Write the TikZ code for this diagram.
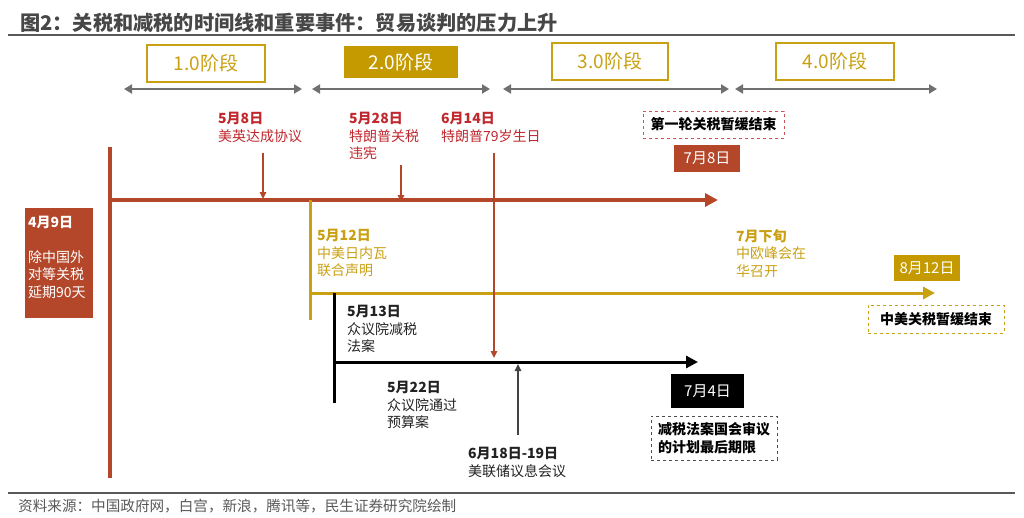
\documentclass[tikz,border=0pt]{standalone}
\usepackage{fontspec}
\setmainfont{Noto Sans CJK SC}
\usetikzlibrary{arrows.meta}
\definecolor{rust}{HTML}{B4462A}
\definecolor{redtxt}{HTML}{C0282E}
\definecolor{gold}{HTML}{C9A012}
\definecolor{goldfill}{HTML}{C49A00}
\definecolor{spangray}{HTML}{707070}
\definecolor{rulegray}{HTML}{595959}
\definecolor{ink}{HTML}{222222}
\begin{document}
\begin{tikzpicture}[x=1pt,y=-1pt,
  phase/.style={draw=gold, line width=2pt, text=gold, inner sep=0,
    font=\fontsize{19}{22}\selectfont},
  span/.style={draw=spangray, line width=2.8pt,
    {Triangle[length=8pt,width=9pt]}-{Triangle[length=8pt,width=9pt]}},
  evt/.style={align=left, anchor=north west, inner sep=0,
    font=\fontsize{14}{17.5}\selectfont},
  datebox/.style={inner sep=0, text=white, font=\fontsize{15}{18}\selectfont},
  notebox/.style={dashed, line width=0.8pt, inner sep=0, text=black,
    font=\bfseries\fontsize{14}{17.5}\selectfont, align=left},
  evarrow/.style={line width=1.3pt, -{Triangle[length=7pt,width=6.5pt]}},
]
\useasboundingbox (0,0) rectangle (1024,517);
% title
\node[anchor=west, inner sep=0, text=rulegray!80!black, font=\bfseries\fontsize{20.2}{23}\selectfont] (title) at (20,23) {图2：关税和减税的时间线和重要事件：贸易谈判的压力上升};
\coordinate (tl0) at (8,35); \coordinate (tl1) at (1015,35);
\draw[rulegray, line width=1.5pt] (tl0) -- (tl1);
\coordinate (bl0) at (8,493); \coordinate (bl1) at (1015,493);
\draw[rulegray, line width=1.5pt] (bl0) -- (bl1);
\node[anchor=west, inner sep=0, text=rulegray, font=\fontsize{14.6}{17}\selectfont] (src) at (18,506) {资料来源：中国政府网，白宫，新浪，腾讯等，民生证券研究院绘制};

% phases
\node[phase, minimum width=118pt, minimum height=37pt] (p1) at (206,63.5) {1.0阶段};
\node[phase, draw=goldfill, fill=goldfill, text=white, minimum width=112pt, minimum height=30pt] (p2) at (401,62) {2.0阶段};
\node[phase, minimum width=116pt, minimum height=37pt] (p3) at (610,61.5) {3.0阶段};
\node[phase, minimum width=118pt, minimum height=37pt] (p4) at (835,61.5) {4.0阶段};
\coordinate (s1a) at (124,89); \coordinate (s1b) at (302,89);
\coordinate (s2a) at (312,89); \coordinate (s2b) at (490,89);
\coordinate (s3a) at (503,89); \coordinate (s3b) at (729,89);
\coordinate (s4a) at (735,89); \coordinate (s4b) at (937,89);
\draw[span] (s1a) -- (s1b);
\draw[span] (s2a) -- (s2b);
\draw[span] (s3a) -- (s3b);
\draw[span] (s4a) -- (s4b);

% red timeline
\coordinate (r0) at (110,147); \coordinate (r1) at (110,478);
\coordinate (rs) at (108,200); \coordinate (re) at (718,200);
\draw[rust, line width=4pt] (r0) -- (r1);
\draw[rust, line width=4pt, -{Triangle[length=13pt,width=13pt]}] (rs) -- (re);

% gold timeline
\coordinate (g0) at (310,200); \coordinate (g1) at (310,320);
\coordinate (gs) at (310,293); \coordinate (ge) at (935,293);
\draw[gold, line width=3pt] (g0) -- (g1);
\draw[gold, line width=3pt, -{Triangle[length=12pt,width=12pt]}] (gs) -- (ge);

% black timeline
\coordinate (k0) at (334,293); \coordinate (k1) at (334,403);
\coordinate (ks) at (334,362); \coordinate (ke) at (698,362);
\draw[black, line width=3pt] (k0) -- (k1);
\draw[black, line width=3pt, -{Triangle[length=12pt,width=12pt]}] (ks) -- (ke);

% red events
\node[evt, text=redtxt] (e58) at (218,112) {\textbf{5月8日}\\美英达成协议};
\node[evt, text=redtxt] (e528) at (349,112) {\textbf{5月28日}\\特朗普关税\\违宪};
\node[evt, text=redtxt] (e614) at (441,112) {\textbf{6月14日}\\特朗普79岁生日};
\coordinate (a1s) at (263,153); \coordinate (a1e) at (263,199);
\coordinate (a2s) at (401,165); \coordinate (a2e) at (401,202);
\coordinate (a3s) at (494,153); \coordinate (a3e) at (494,358);
\draw[evarrow, rust] (a1s) -- (a1e);
\draw[evarrow, rust] (a2s) -- (a2e);
\draw[evarrow, rust] (a3s) -- (a3e);

% left box
\node[fill=rust, minimum width=68pt, minimum height=110pt, inner sep=0] (b49) at (59,263) {};
\node[evt, text=white, anchor=north west] (t49) at ([xshift=3pt,yshift=-8pt]b49.north west) {\textbf{4月9日}\\[17.5pt]除中国外\\对等关税\\延期90天};

% note boxes
\node[notebox, draw=redtxt!80, minimum width=141pt, minimum height=27pt] (n1) at (713.5,124.5) {第一轮关税暂缓结束};
\node[datebox, fill=rust, minimum width=66pt, minimum height=27pt] (d78) at (707,158.5) {7月8日};

% gold events
\node[evt, text=gold] (e512) at (317,229) {\textbf{5月12日}\\中美日内瓦\\联合声明};
\node[evt, text=gold] (e7x) at (736,229) {\textbf{7月下旬}\\中欧峰会在\\华召开};
\node[datebox, fill=goldfill, minimum width=66pt, minimum height=26pt] (d812) at (927,268) {8月12日};
\node[notebox, draw=gold, minimum width=136pt, minimum height=28pt] (n2) at (936,319) {中美关税暂缓结束};

% black events
\node[evt, text=ink] (e513) at (347,305) {\textbf{5月13日}\\众议院减税\\法案};
\node[evt, text=ink] (e522) at (387,381) {\textbf{5月22日}\\众议院通过\\预算案};
\node[evt, text=ink] (e618) at (468,447) {\textbf{6月18日-19日}\\美联储议息会议};
\coordinate (a4s) at (518,435); \coordinate (a4e) at (518,364);
\draw[evarrow, ink!85] (a4s) -- (a4e);
\node[datebox, fill=black, minimum width=73pt, minimum height=34pt] (d74) at (707.5,391) {7月4日};
\node[notebox, draw=ink!80, minimum width=126pt, minimum height=44pt] (n3) at (714,438) {减税法案国会审议\\的计划最后期限};
\end{tikzpicture}
\end{document}
